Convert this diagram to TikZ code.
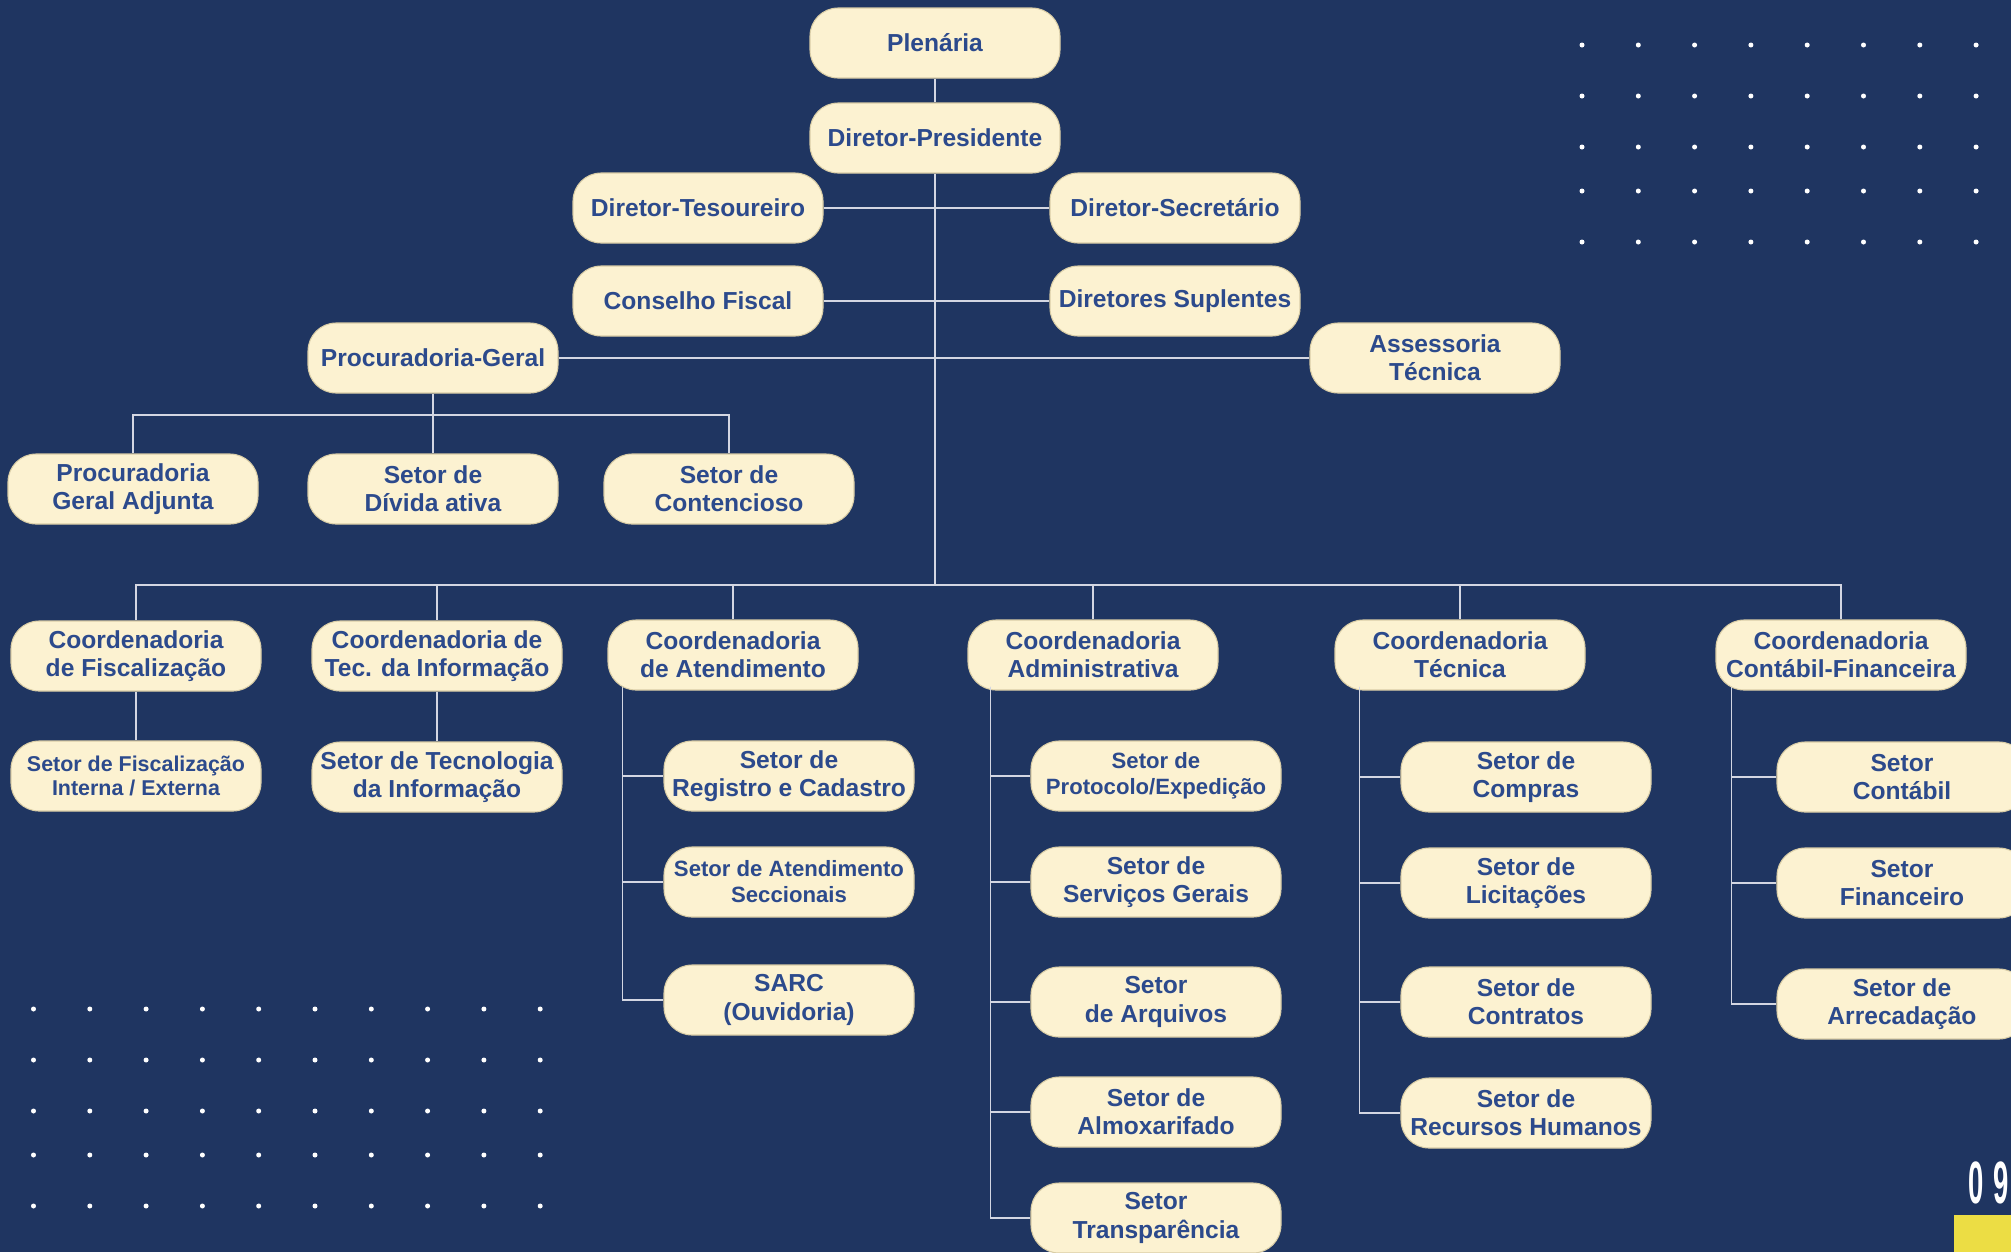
\documentclass[tikz,border=0pt]{standalone}
\usepackage{fontspec}
\setmainfont{Liberation Sans}
\usetikzlibrary{math,calc}

\definecolor{navy}{HTML}{1F3561}
\definecolor{cream}{HTML}{FCF2D1}
\definecolor{creamedge}{HTML}{D9CDA6}
\definecolor{inkblue}{HTML}{2C4A8C}
\definecolor{wire}{HTML}{D3D6E2}
\definecolor{pageyellow}{HTML}{ECDD44}

\begin{document}
\begin{tikzpicture}
\tikzstyle{unit}=[rectangle, rounded corners=0.28cm, draw=creamedge, line width=0.3pt, fill=cream, text=inkblue, minimum width=2.5cm, minimum height=0.7cm, inner sep=0pt, align=center, font=\bfseries\fontsize{7}{8}\selectfont]
\tikzstyle{small unit}=[unit, font=\bfseries\fontsize{6.3}{7.4}\selectfont]
\tikzstyle{tiny unit}=[unit, font=\bfseries\fontsize{6.1}{5.2}\selectfont]
\tikzstyle{link}=[draw=wire, line width=0.55pt]
\tikzstyle{dot}=[fill=white]

\tikzmath{
    \dotstep = 0.563;
    \dotr = 0.025;
}

% Page background
\fill[navy] (0,0) rectangle (20.11,-12.52);
\useasboundingbox (0,0) rectangle (20.11,-12.52);

% Dot grids
\foreach \row in {0.45,0.96,1.47,1.91,2.42}
    \foreach \col in {0,...,7} {
        \fill[dot] (15.82 + \col * \dotstep, -\row) circle (\dotr);
    };
\foreach \row in {10.09,10.60,11.11,11.55,12.06}
    \foreach \col in {0,...,9} {
        \fill[dot] (0.335 + \col * \dotstep, -\row) circle (\dotr);
    };

% Board
\node[unit] (pl) at (9.35,-0.43) {Plenária};
\node[unit] (dp) at (9.35,-1.38) {Diretor-Presidente};
\node[unit] (dt) at (6.98,-2.08) {Diretor-Tesoureiro};
\node[unit] (ds) at (11.75,-2.08) {Diretor-Secretário};
\node[unit] (cf) at (6.98,-3.01) {Conselho Fiscal};
\node[unit] (dsu) at (11.75,-3.01) {Diretores Suplentes};
\node[unit] (pg) at (4.33,-3.58) {Procuradoria-Geral};
\node[unit] (ast) at (14.35,-3.58) {Assessoria\\Técnica};

% Procuradoria
\node[unit] (pga) at (1.33,-4.89) {Procuradoria\\Geral Adjunta};
\node[unit] (sda) at (4.33,-4.89) {Setor de\\Dívida ativa};
\node[unit] (sco) at (7.29,-4.89) {Setor de\\Contencioso};

% Coordenadorias
\node[unit] (cfi) at (1.36,-6.56) {Coordenadoria\\de Fiscalização};
\node[unit] (cti) at (4.37,-6.56) {Coordenadoria de\\Tec. da Informação};
\node[unit] (cat) at (7.33,-6.55) {Coordenadoria\\de Atendimento};
\node[unit] (cad) at (10.93,-6.55) {Coordenadoria\\Administrativa};
\node[unit] (cte) at (14.60,-6.55) {Coordenadoria\\Técnica};
\node[unit] (ccf) at (18.41,-6.55) {Coordenadoria\\Contábil-Financeira};

% Setores
\node[tiny unit] (sfi) at (1.36,-7.76) {Setor de Fiscalização\\Interna / Externa};
\node[unit] (sti) at (4.37,-7.77) {Setor de Tecnologia\\da Informação};

\node[unit] (at1) at (7.89,-7.76) {Setor de\\Registro e Cadastro};
\node[small unit] (at2) at (7.89,-8.82) {Setor de Atendimento\\Seccionais};
\node[unit] (at3) at (7.89,-10.00) {SARC\\(Ouvidoria)};

\node[small unit] (ad1) at (11.56,-7.76) {Setor de\\Protocolo/Expedição};
\node[unit] (ad2) at (11.56,-8.82) {Setor de\\Serviços Gerais};
\node[unit] (ad3) at (11.56,-10.02) {Setor\\de Arquivos};
\node[unit] (ad4) at (11.56,-11.12) {Setor de\\Almoxarifado};
\node[unit] (ad5) at (11.56,-12.18) {Setor\\Transparência};

\node[unit] (te1) at (15.26,-7.77) {Setor de\\Compras};
\node[unit] (te2) at (15.26,-8.83) {Setor de\\Licitações};
\node[unit] (te3) at (15.26,-10.02) {Setor de\\Contratos};
\node[unit] (te4) at (15.26,-11.13) {Setor de\\Recursos Humanos};

\node[unit] (cf1) at (19.02,-7.77) {Setor\\Contábil};
\node[unit] (cf2) at (19.02,-8.83) {Setor\\Financeiro};
\node[unit] (cf3) at (19.02,-10.04) {Setor de\\Arrecadação};

% Links
\draw[link] (pl) -- (dp);
\draw[link] (dp.south) -- (9.35,-5.85) coordinate (bus);
\draw[link] (dt.east) -- (ds.west);
\draw[link] (cf.east) -- (dsu.west);
\draw[link] (pg.east) -- (ast.west);

\draw[link] (pg.south) -- ++(0,-0.21) coordinate (pbus);
\foreach \c in {pga,sda,sco}
    \draw[link] (pbus) -| (\c.north);

\foreach \c in {cfi,cti,cat,cad,cte,ccf}
    \draw[link] (bus) -| (\c.north);

\draw[link] (cfi) -- (sfi);
\draw[link] (cti) -- (sti);

\foreach \c/\dx/\kids in {cat/0.15/{at1,at2,at3}, cad/0.23/{ad1,ad2,ad3,ad4,ad5}, cte/0.25/{te1,te2,te3,te4}, ccf/0.16/{cf1,cf2,cf3}}
    \foreach \k in \kids
        \draw[link] ($(\c.south west)+(\dx,0.04)$) |- (\k.west);

% Page number
\fill[pageyellow] (19.54,-12.15) rectangle (20.11,-12.52);
\node[anchor=base west, inner sep=0pt, text=white, font=\bfseries\fontsize{17}{17}\selectfont] (pagenum) at (19.68,-12.03) {\scalebox{0.46}[1]{0\hspace{0.35em}9}};

\end{tikzpicture}
\end{document}
